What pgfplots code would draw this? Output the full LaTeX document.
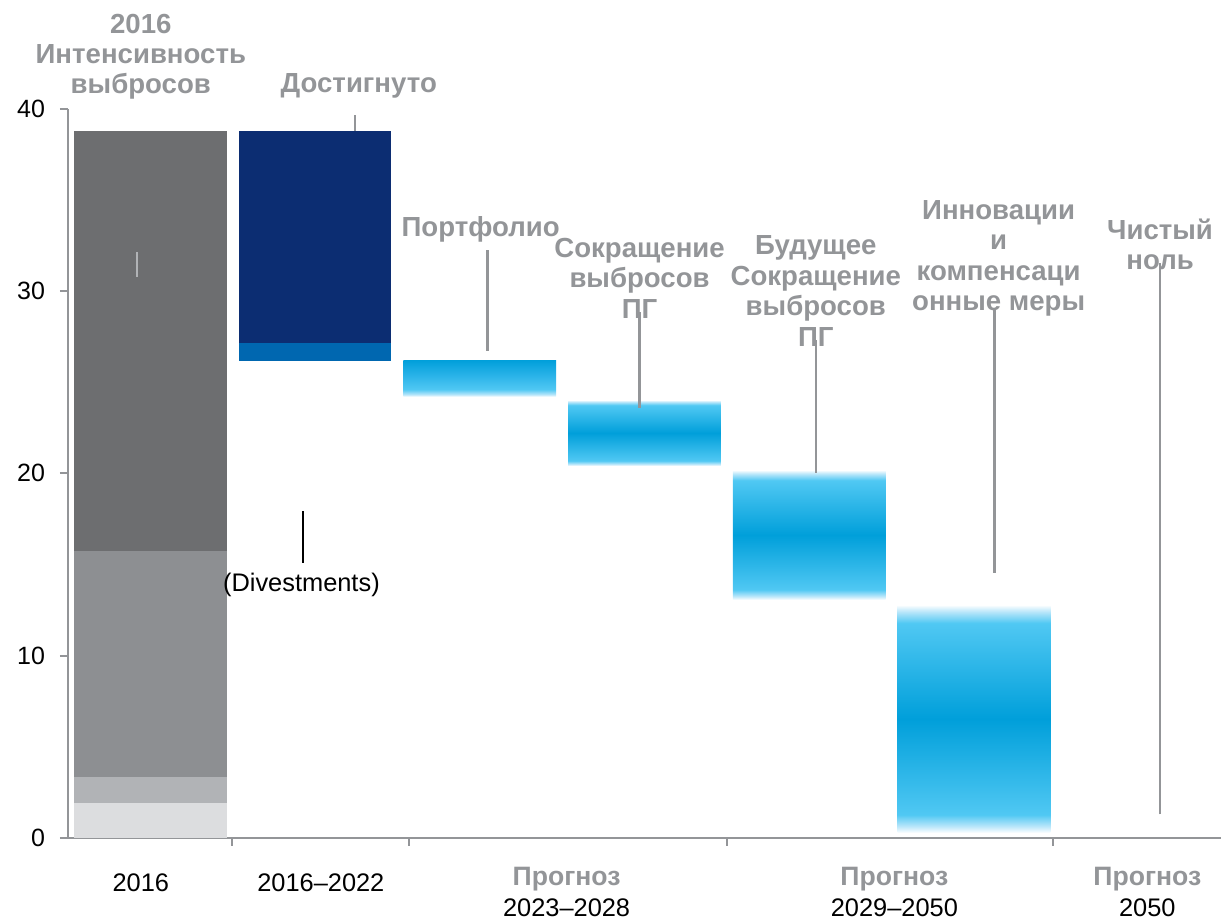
\documentclass[border=0pt]{standalone}
\usepackage{fontspec}
\setmainfont{Liberation Sans}
\usepackage{pgfplots}
\pgfplotsset{compat=1.18}
\definecolor{lbl}{HTML}{939598}
\definecolor{axisgray}{HTML}{939598}
\definecolor{g1}{HTML}{DCDDDF}
\definecolor{g2}{HTML}{B1B3B6}
\definecolor{g3}{HTML}{8D8F92}
\definecolor{g4}{HTML}{6D6E70}
\definecolor{navy}{HTML}{0C2D72}
\definecolor{midblue}{HTML}{0067B0}
\definecolor{cyanD}{HTML}{009FDA}
\definecolor{cyanM}{HTML}{28B2E8}
\definecolor{cyanL}{HTML}{50C8F3}
\definecolor{cyanW}{HTML}{B8E6FA}
\pgfdeclareverticalshading{symblue}{100bp}{color(0bp)=(white); color(25bp)=(white); color(26.5bp)=(cyanW); color(29bp)=(cyanL); color(50bp)=(cyanD); color(71bp)=(cyanL); color(73.5bp)=(cyanW); color(75bp)=(white); color(100bp)=(white)}
\pgfdeclareverticalshading{halfblue}{100bp}{color(0bp)=(white); color(25bp)=(white); color(28bp)=(cyanW); color(35bp)=(cyanL); color(55bp)=(cyanM); color(75bp)=(cyanD); color(100bp)=(cyanD)}
\begin{document}
\begin{tikzpicture}
\useasboundingbox (0,0) rectangle (610.5pt,460pt);
\begin{axis}[
  at={(34pt,41.05pt)}, anchor=south west,
  scale only axis, width=576.5pt, height=364.6pt,
  xmin=-0.5, xmax=6.5, ymin=0, ymax=40,
  axis x line=bottom, axis y line=left,
  axis line style={-, draw=axisgray, line width=1.3pt},
  tick align=outside, major tick length=4pt,
  tick style={draw=axisgray, line width=1pt},
  xtick={0.495,1.568,3.498,5.482}, xticklabels={},
  ytick={0,10,20,30,40},
  yticklabel style={font=\fontsize{12.5}{14}\selectfont, text=black, xshift=-4pt},
  /pgf/number format/assume math mode=true,
  clip=false,
]
% Bar 1 (2016 stacked)
\addplot[draw=none, fill=g1] coordinates {(-0.464,0) (0.464,0) (0.464,1.9) (-0.464,1.9)} -- cycle;
\addplot[draw=none, fill=g2] coordinates {(-0.464,1.9) (0.464,1.9) (0.464,3.35) (-0.464,3.35)} -- cycle;
\addplot[draw=none, fill=g3] coordinates {(-0.464,3.35) (0.464,3.35) (0.464,15.75) (-0.464,15.75)} -- cycle;
\addplot[draw=none, fill=g4] coordinates {(-0.464,15.75) (0.464,15.75) (0.464,38.8) (-0.464,38.8)} -- cycle;
% Bar 2 (2016-2022)
\addplot[draw=none, fill=midblue] coordinates {(0.536,26.18) (1.464,26.18) (1.464,27.15) (0.536,27.15)} -- cycle;
\addplot[draw=none, fill=navy] coordinates {(0.536,27.15) (1.464,27.15) (1.464,38.8) (0.536,38.8)} -- cycle;
% Floating gradient bars
\addplot[draw=none, shade, shading=halfblue] coordinates {(1.536,24.2) (2.464,24.2) (2.464,26.21) (1.536,26.21)} -- cycle;
\addplot[draw=none, shade, shading=symblue] coordinates {(2.536,20.4) (3.464,20.4) (3.464,24.02) (2.536,24.02)} -- cycle;
\addplot[draw=none, shade, shading=symblue] coordinates {(3.536,13.05) (4.464,13.05) (4.464,20.18) (3.536,20.18)} -- cycle;
\addplot[draw=none, shade, shading=symblue] coordinates {(4.536,0.27) (5.464,0.27) (5.464,12.78) (4.536,12.78)} -- cycle;
% Leader lines
\addplot[draw=g2, line width=1pt] coordinates {(-0.08,30.78) (-0.08,32.16)};
\addplot[draw=axisgray, line width=1.2pt] coordinates {(1.241,38.8) (1.241,39.65)};
\addplot[draw=axisgray, line width=1.2pt] coordinates {(2.046,26.72) (2.046,32.25)};
\addplot[draw=axisgray, line width=1.2pt] coordinates {(2.970,23.57) (2.970,28.86)};
\addplot[draw=axisgray, line width=1.2pt] coordinates {(4.042,20.03) (4.042,27.31)};
\addplot[draw=axisgray, line width=1.2pt] coordinates {(5.124,14.55) (5.124,29.07)};
\addplot[draw=axisgray, line width=1.2pt] coordinates {(6.130,1.29) (6.130,31.54)};
\addplot[draw=black, line width=1pt] coordinates {(0.924,15.10) (0.924,17.93)};
% Labels
\begin{scope}[every node/.style={align=center, font=\bfseries\fontsize{13.8}{15.2}\selectfont, text=lbl, inner sep=0pt}]
\node at (axis cs:-0.058,42.85) {2016\\Интенсивность\\выбросов};
\node at (axis cs:1.265,41.25) {Достигнуто};
\node at (axis cs:2.005,33.4) {Портфолио};
\node at (axis cs:2.97,30.7) {Сокращение\\выбросов\\ПГ};
\node at (axis cs:4.04,30.0) {Будущее\\Сокращение\\выбросов\\ПГ};
\node at (axis cs:5.15,31.8) {Инновации\\и\\компенсаци\\онные меры};
\node at (axis cs:6.13,32.55) {Чистый\\ноль};
\end{scope}
\begin{scope}[every node/.style={align=center, font=\fontsize{12.7}{15.5}\selectfont, text=black, inner sep=0pt}]
\node at (axis cs:0.917,13.87) {(Divestments)};
\node at (axis cs:-0.058,-2.45) {2016};
\node at (axis cs:1.035,-2.45) {2016–2022};
\node at (axis cs:2.527,-2.94) {{\bfseries\fontsize{13.3}{15.5}\selectfont\color{lbl}Прогноз}\\2023–2028};
\node at (axis cs:4.517,-2.94) {{\bfseries\fontsize{13.3}{15.5}\selectfont\color{lbl}Прогноз}\\2029–2050};
\node at (axis cs:6.053,-2.94) {{\bfseries\fontsize{13.3}{15.5}\selectfont\color{lbl}Прогноз}\\2050};
\end{scope}
\end{axis}
\end{tikzpicture}
\end{document}
